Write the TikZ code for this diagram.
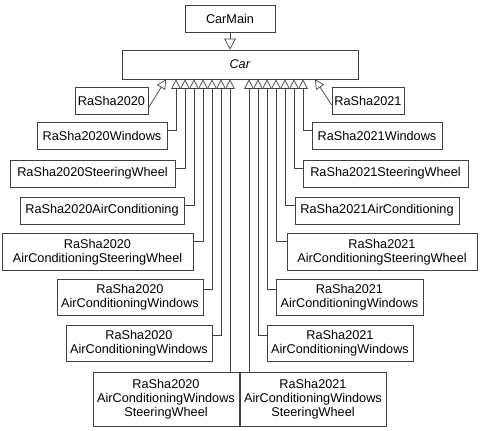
\documentclass[tikz,border=0pt]{standalone}
\usepackage{fontspec}
\setmainfont{Liberation Sans}
\usepackage{tikz}
\usetikzlibrary{arrows.meta}
\tikzset{
cdbox/.style={rectangle,draw=black!75,line width=0.7pt,align=center,inner sep=0pt,minimum height=27pt},
cdtwo/.style={cdbox,minimum height=36.5pt},
cdthree/.style={cdbox,minimum height=54pt},
cdinh/.style={-{Triangle[open,width=9.6pt,length=9.5pt]},draw=black!75,line width=0.7pt},
cdmainarr/.style={-{Triangle[open,width=11.5pt,length=11pt]},draw=black!75,line width=0.7pt}
}
\begin{document}
\begin{tikzpicture}[
x=1pt,
y=-1pt,
every node/.style={font=\fontsize{12.7}{14}\selectfont}
]
\useasboundingbox (0,0) rectangle (480,431);
\node[cdbox,minimum width=90pt] (carmain) at (230,18.5) {CarMain};
\node[cdbox,minimum width=236pt,minimum height=29pt] (car) at (240,64.5) {\textit{Car}};
% 2020 side
\node[cdbox,minimum width=73pt] (r20) at (111.5,100.5) {RaSha2020};
\node[cdbox,minimum width=130pt] (w20) at (102,135.5) {RaSha2020Windows};
\node[cdbox,minimum width=165pt] (sw20) at (92.5,173.5) {RaSha2020SteeringWheel};
\node[cdbox,minimum width=164pt] (ac20) at (102,210.5) {RaSha2020AirConditioning};
\node[cdtwo,minimum width=191pt] (acsw20) at (97.5,252) {RaSha2020\\AirConditioningSteeringWheel};
\node[cdtwo,minimum width=146pt] (acwa20) at (130,297.5) {RaSha2020\\AirConditioningWindows};
\node[cdtwo,minimum width=146pt] (acwb20) at (139,343.5) {RaSha2020\\AirConditioningWindows};
\node[cdthree,minimum width=146pt] (acwsw20) at (166,399) {RaSha2020\\AirConditioningWindows\\SteeringWheel};
% 2021 side
\node[cdbox,minimum width=72pt] (r21) at (368,100.5) {RaSha2021};
\node[cdbox,minimum width=130pt] (w21) at (377,135.5) {RaSha2021Windows};
\node[cdbox,minimum width=165pt] (sw21) at (385.5,173.5) {RaSha2021SteeringWheel};
\node[cdbox,minimum width=164pt] (ac21) at (377,210.5) {RaSha2021AirConditioning};
\node[cdtwo,minimum width=190pt] (acsw21) at (382,252) {RaSha2021\\AirConditioningSteeringWheel};
\node[cdtwo,minimum width=147pt] (acwa21) at (349.5,297.5) {RaSha2021\\AirConditioningWindows};
\node[cdtwo,minimum width=146pt] (acwb21) at (340,343.5) {RaSha2021\\AirConditioningWindows};
\node[cdthree,minimum width=146pt] (acwsw21) at (313,399) {RaSha2021\\AirConditioningWindows\\SteeringWheel};
\draw[cdmainarr] (carmain.south) -- ([xshift=-10pt]car.north);
\draw[cdinh] ([yshift=-7.5pt]r20.east) -- ([xshift=-74pt]car.south);
\draw[cdinh] ([yshift=-9pt]w20.north east) -| ([xshift=-64pt]car.south);
\draw[cdinh] ([yshift=-9pt]sw20.north east) -| ([xshift=-55pt]car.south);
\draw[cdinh] ([yshift=-9pt]ac20.north east) -| ([xshift=-46pt]car.south);
\draw[cdinh] ([yshift=-8pt]acsw20.north east) -| ([xshift=-37pt]car.south);
\draw[cdinh] ([yshift=-10pt]acwa20.north east) -| ([xshift=-28pt]car.south);
\draw[cdinh] ([yshift=-10pt]acwb20.north east) -| ([xshift=-19pt]car.south);
\draw[cdinh] ([xshift=64pt]acwsw20.north) -- ([xshift=-10pt]car.south);
\draw[cdinh] ([yshift=-4.5pt]r21.west) -- ([xshift=75pt]car.south);
\draw[cdinh] ([yshift=-9pt]w21.north west) -| ([xshift=63pt]car.south);
\draw[cdinh] ([yshift=-9pt]sw21.north west) -| ([xshift=54pt]car.south);
\draw[cdinh] ([yshift=-9pt]ac21.north west) -| ([xshift=45pt]car.south);
\draw[cdinh] ([yshift=-8pt]acsw21.north west) -| ([xshift=36pt]car.south);
\draw[cdinh] ([yshift=-10pt]acwa21.north west) -| ([xshift=27pt]car.south);
\draw[cdinh] ([yshift=-10pt]acwb21.north west) -| ([xshift=18pt]car.south);
\draw[cdinh] ([xshift=-64pt]acwsw21.north) -- ([xshift=9pt]car.south);
\end{tikzpicture}
\end{document}
